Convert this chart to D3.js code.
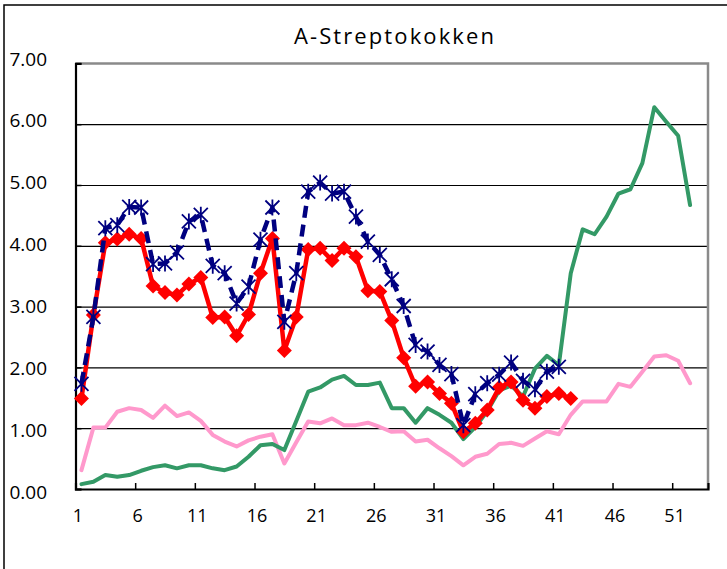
<!DOCTYPE html>
<html>
<head>
<meta charset="utf-8">
<script src="https://cdn.jsdelivr.net/npm/d3@7/dist/d3.min.js"></script>
<style>
  body { margin:0; background:#fff; }
  svg text { font-family:"Open Sans", sans-serif; fill:#000; }
</style>
</head>
<body>
<svg id="svg" width="727" height="569"></svg>
<script>
// weeks on the category axis
var weeks = d3.range(1, 54);
var weekLabels = [1, 6, 11, 16, 21, 26, 31, 36, 41, 46, 51];
var yTicks = [0, 1, 2, 3, 4, 5, 6, 7];

// series values, one per week (shorter series stop early)
var seriesBlue = [1.73,2.83,4.29,4.34,4.64,4.63,3.70,3.71,3.89,4.40,4.51,3.67,3.55,3.05,3.33,4.10,4.63,2.75,3.55,4.89,
  5.04,4.86,4.89,4.48,4.07,3.85,3.45,3.01,2.37,2.26,2.04,1.89,1.05,1.56,1.74,1.88,2.08,1.78,1.64,1.93,2.01];
var seriesRed = [1.49,2.86,4.05,4.11,4.19,4.12,3.34,3.23,3.19,3.37,3.48,2.82,2.83,2.52,2.87,3.55,4.12,2.28,2.83,3.94,
  3.96,3.76,3.96,3.82,3.26,3.25,2.77,2.16,1.69,1.76,1.57,1.41,0.94,1.08,1.30,1.67,1.76,1.46,1.33,1.52,1.57,1.49];
var seriesGreen = [0.08,0.12,0.23,0.20,0.23,0.30,0.36,0.39,0.34,0.39,0.39,0.34,0.31,0.37,0.53,0.72,0.74,0.64,1.12,1.60,
  1.67,1.80,1.86,1.71,1.71,1.75,1.33,1.33,1.09,1.33,1.22,1.09,0.82,1.02,1.28,1.62,1.70,1.52,1.98,2.19,
  2.04,3.55,4.27,4.19,4.48,4.86,4.93,5.36,6.28,6.04,5.81,4.67];
var seriesPink = [0.31,1.01,1.01,1.27,1.33,1.30,1.17,1.37,1.20,1.26,1.12,0.89,0.78,0.70,0.80,0.86,0.90,0.42,0.77,1.11,
  1.08,1.16,1.05,1.05,1.09,1.02,0.94,0.95,0.78,0.81,0.67,0.54,0.39,0.53,0.58,0.74,0.76,0.71,0.83,0.95,
  0.90,1.22,1.44,1.44,1.44,1.73,1.68,1.93,2.18,2.20,2.11,1.74];

var svg = d3.select("#svg");

var plot = { left:75.5, right:708, top:63.4, bottom:489 };

// outer chart frame (runs off the picture right and bottom)
svg.append('rect')
  .attr('x', 4).attr('y', 5)
  .attr('width', 800).attr('height', 700)
  .style('fill', 'none').style('stroke', '#000').style('stroke-width', 1.5);

svg.append('text')
  .attr('x', 395).attr('y', 43.5)
  .attr('text-anchor', 'middle')
  .style('font-size', '22px')
  .style('letter-spacing', '2.1px')
  .text('A-Streptokokken');

var x = d3.scaleBand().domain(weeks).range([plot.left, plot.right]).padding(0);
var xEdge = d3.scaleLinear().domain([0, weeks.length]).range([plot.left, plot.right]);
var y = d3.scaleLinear().domain([0, 7]).range([plot.bottom, plot.top]);
// label baselines sit a touch off the grid, as in the original
var yLab = d3.scaleLinear().domain([0, 7]).range([498.5, 65]);

var cx = function(i){ return x(weeks[i]) + x.bandwidth() / 2; };

// grid lines
var grid = svg.append('g')
  .attr('transform', 'translate(' + plot.left + ',0)')
  .call(d3.axisLeft(y).tickValues([1,2,3,4,5,6]).tickSize(-(plot.right - plot.left)).tickFormat(''));
grid.select('.domain').remove();
grid.selectAll('line').style('stroke', '#000').style('stroke-width', 1.2);

// top and right of plot frame in grey
svg.append('path')
  .attr('d', 'M' + plot.left + ',' + plot.top + 'H' + plot.right + 'V' + plot.bottom)
  .style('fill', 'none').style('stroke', '#8a8a8a').style('stroke-width', 2.5);

// y axis
var yAxis = svg.append('g')
  .attr('transform', 'translate(' + plot.left + ',0)')
  .call(d3.axisLeft(y).tickValues(yTicks).tickSize(-6).tickPadding(0).tickFormat(d3.format('.2f')));
yAxis.select('.domain').style('stroke', '#000').style('stroke-width', 2.2);
yAxis.selectAll('line').style('stroke', '#000').style('stroke-width', 1.5);
yAxis.selectAll('text')
  .attr('x', 47 - plot.left)
  .attr('dy', 0)
  .attr('y', function(d){ return yLab(d) - y(d); })
  .style('font-size', '19px')
  .style('font-family', '"Open Sans", sans-serif');

// x axis: tick marks between weeks, labels under weeks
var xTickAxis = svg.append('g')
  .attr('transform', 'translate(0,' + plot.bottom + ')')
  .call(d3.axisBottom(xEdge).tickValues([5,10,15,20,25,30,35,40,45,50]).tickSize(-6).tickFormat(''));
xTickAxis.select('.domain').style('stroke', '#000').style('stroke-width', 2.2);
xTickAxis.selectAll('line').style('stroke', '#000').style('stroke-width', 1.5);

var xLabAxis = svg.append('g')
  .attr('transform', 'translate(0,' + plot.bottom + ')')
  .call(d3.axisBottom(x).tickValues(weekLabels).tickSize(0).tickPadding(0));
xLabAxis.select('.domain').remove();
xLabAxis.selectAll('text')
  .attr('dx', -3.5)
  .attr('dy', 0)
  .attr('y', 33)
  .style('font-size', '18px')
  .style('font-family', '"Open Sans", sans-serif');

var line = d3.line()
  .x(function(d, i){ return cx(i); })
  .y(function(d){ return y(d); });

var lines = svg.append('g');

lines.append('path').datum(seriesPink)
  .attr('d', line)
  .style('fill', 'none').style('stroke', '#FF99CC').style('stroke-width', 4)
  .style('stroke-linejoin', 'round').style('stroke-linecap', 'round');

lines.append('path').datum(seriesGreen)
  .attr('d', line)
  .style('fill', 'none').style('stroke', '#339966').style('stroke-width', 4)
  .style('stroke-linejoin', 'round').style('stroke-linecap', 'round');

lines.append('path').datum(seriesRed)
  .attr('d', line)
  .style('fill', 'none').style('stroke', '#FF0000').style('stroke-width', 4.5)
  .style('stroke-linejoin', 'round');

lines.selectAll('.dia').data(seriesRed).enter().append('path')
  .classed('dia', true)
  .attr('transform', function(d, i){ return 'translate(' + cx(i) + ',' + y(d) + ')'; })
  .attr('d', 'M0,-7.5L7.5,0L0,7.5L-7.5,0Z')
  .style('fill', '#FF0000');

lines.append('path').datum(seriesBlue)
  .attr('d', line)
  .style('fill', 'none').style('stroke', '#000080').style('stroke-width', 4.5)
  .style('stroke-dasharray', '12,7')
  .style('stroke-linejoin', 'round');

lines.selectAll('.ast').data(seriesBlue).enter().append('path')
  .classed('ast', true)
  .attr('transform', function(d, i){ return 'translate(' + cx(i) + ',' + y(d) + ')'; })
  .attr('d', 'M-7,-7L7,7M-7,7L7,-7M0,-8L0,8')
  .style('fill', 'none').style('stroke', '#000080').style('stroke-width', 1.8);
</script>
</body>
</html>
